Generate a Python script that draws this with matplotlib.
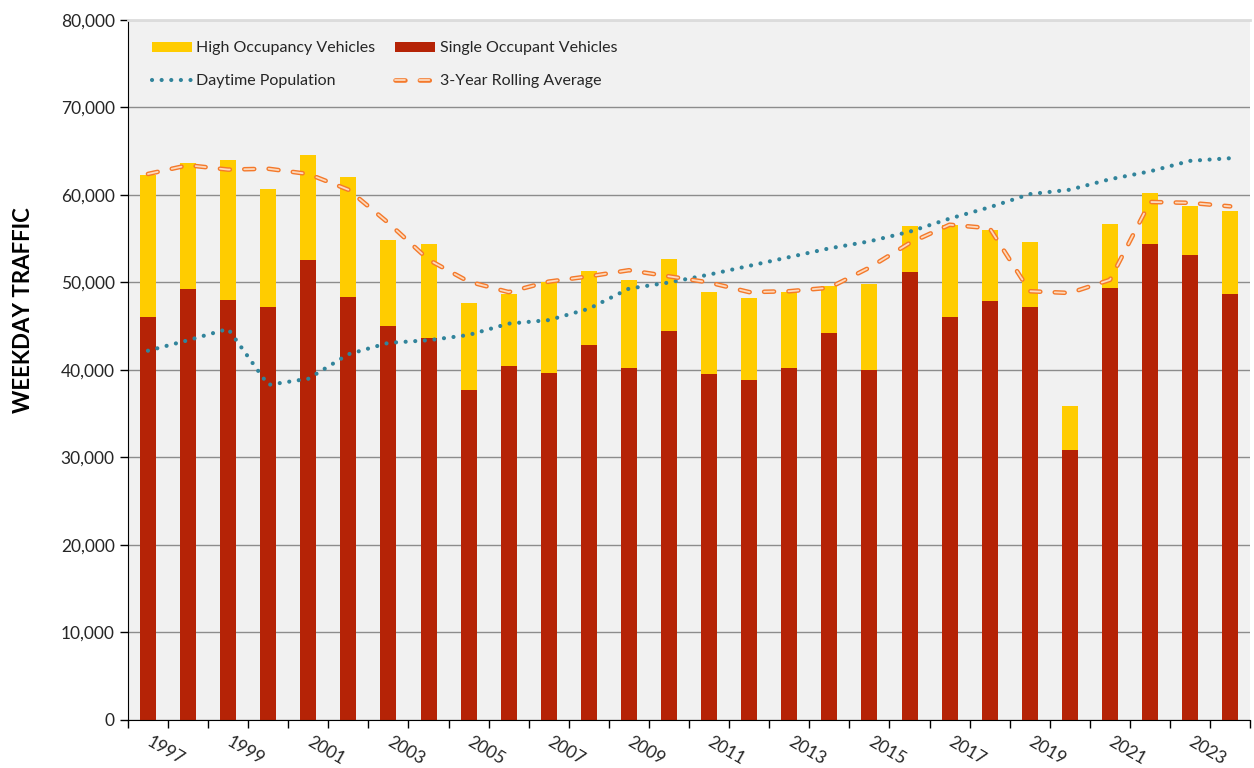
import matplotlib
matplotlib.use("Agg")
import matplotlib.pyplot as plt
import matplotlib.patheffects as pe
from matplotlib.lines import Line2D
from matplotlib.patches import Patch
from matplotlib.ticker import FuncFormatter, FixedLocator
import numpy as np

plt.rcParams['font.family'] = ['Lato', 'DejaVu Sans']

# -------------------------
# Data
# -------------------------
years = list(range(1997, 2025))
sov = [46000, 49300, 48000, 47200, 52600, 48300, 45000, 43700, 37700, 40500,
       39700, 42900, 40200, 44400, 39500, 38900, 40200, 44200, 40000, 51200,
       46100, 47900, 47200, 30900, 49400, 54400, 53100, 48700]
hov = [16300, 14300, 16000, 13500, 12000, 13800, 9800, 10700, 9900, 8200,
       10300, 8400, 10100, 8300, 9400, 9300, 8700, 5400, 9800, 5300,
       10500, 8100, 7400, 5000, 7300, 5800, 5600, 9500]
population = [42200, 43400, 44700, 38300, 39000, 41800, 43100, 43400, 44000, 45300,
              45700, 47000, 49300, 50000, 50900, 51900, 52900, 53900, 54700, 55800,
              57300, 58600, 60100, 60600, 61800, 62700, 63900, 64200]
rolling = [62400, 63400, 62900, 63000, 62400, 60600, 56800, 52600, 50100, 48900,
           50100, 50700, 51400, 50700, 50000, 48900, 49000, 49400, 51700, 54500,
           56600, 56200, 49000, 48800, 50300, 59200, 59100, 58700]

# colours
c_hov = "#FFCC00"
c_sov = "#B52306"
c_pop = "#31849B"
c_roll = "#F4792B"
c_roll_in = "#FCD9BD"

x = np.arange(len(years))

fig = plt.figure(figsize=(12.54, 7.68), dpi=100)
ax = fig.add_axes([0.102, 0.0625, 0.895, 0.9115])
ax.set_facecolor("#F1F1F1")

# -------------------------
# Bars
# -------------------------
ax.bar(x, sov, width=0.4, color=c_sov, zorder=2)
ax.bar(x, hov, width=0.4, bottom=sov, color=c_hov, zorder=2)

# -------------------------
# Lines
# -------------------------
pop_style = dict(color=c_pop, lw=3, linestyle=(0, (0.01, 2.3)), dash_capstyle="round")
ax.plot(x, population, zorder=3, **pop_style)

roll_fx = [pe.Stroke(linewidth=3.3, foreground=c_roll), pe.Normal()]
roll_style = dict(color=c_roll_in, lw=1.3, linestyle=(0, (5.5, 8.0)),
                  dash_capstyle="round", path_effects=roll_fx)
ax.plot(x, rolling, zorder=4, **roll_style)

# -------------------------
# Axes styling
# -------------------------
ax.set_xlim(-0.5, len(years) - 0.5)
ax.set_ylim(0, 80000)
ax.set_yticks(np.arange(0, 80001, 10000))
ax.yaxis.set_major_formatter(FuncFormatter(lambda v, p: f"{int(v):,}"))
ax.yaxis.grid(True, color="#8C8C8C", lw=1.0)
ax.set_axisbelow(True)

# ticks between categories, labels every other year on the bar
ax.xaxis.set_major_locator(FixedLocator(np.arange(-0.5, len(years), 1.0)))
ax.xaxis.set_major_formatter(FuncFormatter(lambda v, p: ""))
ax.xaxis.set_minor_locator(FixedLocator(x[::2]))
ax.set_xticklabels([str(y) for y in years[::2]], minor=True)
ax.tick_params(axis="x", which="major", length=6, width=1, color="black")
ax.tick_params(axis="x", which="minor", length=0, pad=15, labelsize=12.5,
               labelcolor="#262626")
for lbl in ax.get_xticklabels(minor=True):
    lbl.set_rotation(-30)
    lbl.set_ha("left")
    lbl.set_va("center")
    lbl.set_rotation_mode("anchor")
ax.tick_params(axis="y", length=6, width=1, labelsize=12.5, labelcolor="#262626")

ax.spines["right"].set_visible(False)
ax.spines["top"].set_color("#DCDCDC")
ax.spines["top"].set_linewidth(2)
ax.spines["left"].set_color("black")
ax.spines["bottom"].set_color("black")

ax.set_ylabel("WEEKDAY TRAFFIC", fontsize=16, fontweight="bold", color="black")
ax.yaxis.set_label_coords(-0.0835, 0.586)

# -------------------------
# Legend
# -------------------------
handles = [
    Patch(facecolor=c_hov, label="High Occupancy Vehicles"),
    Line2D([], [], label="Daytime Population", **pop_style),
    Patch(facecolor=c_sov, label="Single Occupant Vehicles"),
    Line2D([], [], label="3-Year Rolling Average", **roll_style),
]
ax.legend(handles=handles, ncol=2, loc="upper left", bbox_to_anchor=(0.014, 0.981),
          frameon=False, fontsize=11.5, handlelength=2.5, handleheight=0.6,
          labelspacing=1.2, columnspacing=1.25, handletextpad=0.3,
          borderpad=0, labelcolor="#262626")

plt.savefig("out.png", dpi=100)
